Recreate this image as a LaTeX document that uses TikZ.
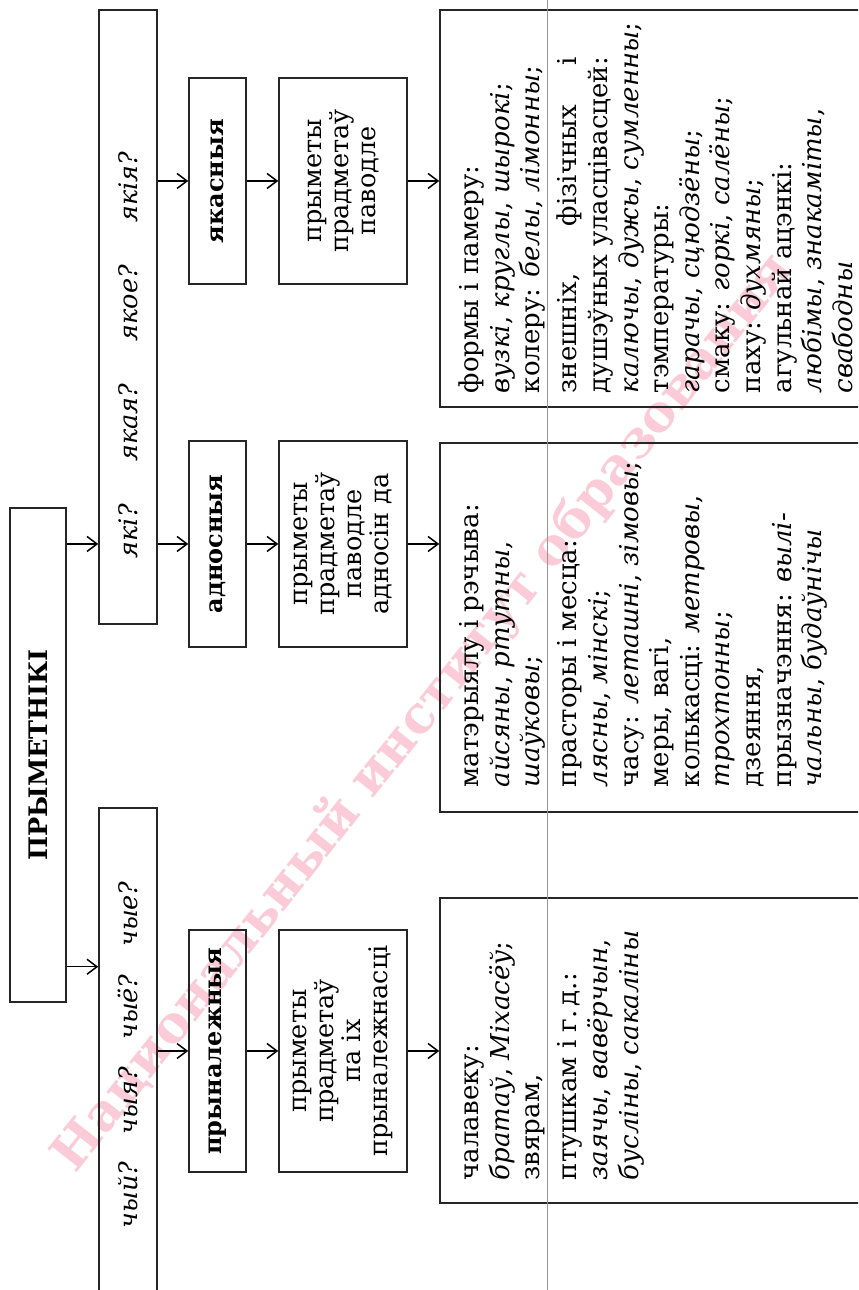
\documentclass[tikz,border=0pt]{standalone}
\usepackage{fontspec}
\setmainfont{DejaVu Serif}
\usetikzlibrary{arrows.meta, positioning, calc}

\definecolor{stampred}{RGB}{251,204,215}
\definecolor{foldgray}{RGB}{150,150,150}

% spread a line out to the width of another one
\newlength{\linespan}
\newcommand{\spreadas}[2]{\settowidth{\linespan}{#1}\makebox[\linespan][s]{#2}}

\begin{document}
\begin{tikzpicture}
   [
      % Style for every frame: thin black border, no padding
      box/.style={draw=black!85, line width=0.6pt, inner sep=0pt},
      % Style for the top box
      title box/.style={box, font=\fontsize{10.2}{12}\selectfont\bfseries},
      % Style for the three bold kind boxes
      kind box/.style={box, minimum height=22.8pt, font=\fontsize{9.6}{12}\selectfont\bfseries},
      % Style for the 'прыметы прадметаў' boxes
      sense box/.style={box, minimum height=51.2pt, align=center, font=\fontsize{10.2}{10.8}\selectfont},
      % Style for the question words
      question/.style={inner sep=0pt, font=\fontsize{10.2}{12.24}\selectfont\itshape},
      % Style for the long lists of examples
      list text/.style={anchor=north west, inner sep=0pt, align=left, font=\fontsize{10.4}{12.24}\selectfont},
      % Style for the arrows
      link/.style={line width=0.5pt, -{Straight Barb[length=4pt, width=6pt, line width=0.6pt]}},
      % Style for the page fold and the stamp
      fold line/.style={foldgray, line width=0.4pt},
      watermark/.style={text=stampred, font=\fontsize{20.5}{24}\selectfont\bfseries}
   ]

    \useasboundingbox (-343.2pt,0) rectangle (0,516pt);
    \clip (-343.2pt,0) rectangle (0,516pt);

    % Stamp across the page, under everything
    \node[watermark, rotate=51.5] (stamp) at (-174pt,231pt) {Национальный институт образования};

    % The whole scheme is set on its side
    \begin{scope}[rotate=90, transform shape]

    % =======================================================
    % Top: the word and the two question boxes
    % =======================================================

    \node[title box, minimum width=197.6pt, minimum height=22.4pt] (adj) at (214pt,328pt) {ПРЫМЕТНІКІ};

    \node[box, minimum width=245.6pt, minimum height=23.2pt] (which) at (389.2pt,292pt) {};
    \node[box, minimum width=208.8pt, minimum height=23.2pt] (whose) at (88.4pt,292pt) {};

    \node[question] (whichq) at (374pt,292pt) {які?\hspace{17pt}якая?\hspace{17pt}якое?\hspace{17pt}якія?};
    \node[question] (whoseq) at (94pt,292pt) {чый?\hspace{11pt}чыя?\hspace{11pt}чыё?\hspace{11pt}чые?};

    % =======================================================
    % Middle: the three kinds and what they mean
    % =======================================================

    \node[kind box, minimum width=82.4pt] (qual) at (443.6pt,256.2pt) {якасныя};
    \node[kind box, minimum width=82.4pt] (rel) at (298.4pt,256.2pt) {адносныя};
    \node[kind box, minimum width=96.8pt] (poss) at (95.6pt,256.2pt) {прыналежныя};

    \node[sense box, minimum width=82.4pt] (qualsense) at (443.6pt,206pt) {прыметы\\прадметаў\\паводле};
    \node[sense box, minimum width=82.4pt] (relsense) at (298.4pt,206pt) {прыметы\\прадметаў\\паводле\\адносін да};
    \node[sense box, minimum width=96.8pt] (posssense) at (95.6pt,206pt) {прыметы\\прадметаў\\па іх\\прыналежнасці};

    % =======================================================
    % Bottom: the frames with examples (cut by the page)
    % =======================================================

    \node[box, minimum width=158.8pt, minimum height=187.2pt] (qualframe) at (432.6pt,73.6pt) {};
    \node[box, minimum width=147.6pt, minimum height=187.2pt] (relframe) at (265pt,73.6pt) {};
    \node[box, minimum width=122pt, minimum height=187.2pt] (possframe) at (95.8pt,73.6pt) {};

    \node[list text] (qualtext) at ($(qualframe.north west)+(5.6pt,-7pt)$) {\strut формы і памеру:\\
      \textit{вузкі}, \textit{круглы}, \textit{шырокі};\\
      колеру: \textit{белы}, \textit{лімонны};\\[2.6pt]
      \spreadas{душэўных уласцівасцей:}{знешніх, фізічных і}\\
      душэўных уласцівасцей:\\
      \textit{калючы}, \textit{дужы}, \textit{сумленны};\\
      тэмпературы:\\
      \textit{гарачы}, \textit{сцюдзёны};\\
      смаку: \textit{горкі}, \textit{салёны};\\
      паху: \textit{духмяны};\\
      агульнай ацэнкі:\\
      \textit{любімы}, \textit{знакаміты},\\
      \textit{свабодны}};

    \node[list text] (reltext) at ($(relframe.north west)+(10pt,-7pt)$) {\strut матэрыялу і рэчыва:\\
      \textit{айсяны}, \textit{ртутны},\\
      \textit{шаўковы};\\[2.6pt]
      прасторы і месца:\\
      \textit{лясны}, \textit{мінскі};\\
      часу: \textit{леташні}, \textit{зімовы};\\
      меры, вагі,\\
      колькасці: \textit{метровы},\\
      \textit{трохтонны};\\
      дзеяння,\\
      прызначэння: \textit{вылі-}\\
      \textit{чальны}, \textit{будаўнічы}};

    \node[list text] (posstext) at ($(possframe.north west)+(9.2pt,-7pt)$) {\strut чалавеку:\\
      \textit{братаў}, \textit{Міхасёў};\\
      звярам,\\[2.6pt]
      птушкам і г.\,д.:\\
      \textit{заячы}, \textit{вавёрчын},\\
      \textit{бусліны}, \textit{сакаліны}};

    % Arrows from the word to the question boxes
    \coordinate (fork) at ($(adj.south west)!14.4pt!(adj.south east)$);
    \draw[link] (adj.south -| rel) -- (which.north -| rel);
    \draw[link] (fork) -- (whose.north -| fork);

    % Arrows down each column
    \draw[link] (which.south -| qual) -- (qual.north);
    \draw[link] (which.south -| rel) -- (rel.north);
    \draw[link] (whose.south -| poss) -- (poss.north);

    \draw[link] (qual.south) -- (qualsense.north);
    \draw[link] (rel.south) -- (relsense.north);
    \draw[link] (poss.south) -- (posssense.north);

    \draw[link] (qualsense.south) -- (qualframe.north -| qualsense.south);
    \draw[link] (relsense.south) -- (relframe.north -| relsense.south);
    \draw[link] (posssense.south) -- (possframe.north -| posssense.south);

    % Fold of the page
    \draw[fold line] (0,124pt) -- (516pt,124pt);

    \end{scope}

\end{tikzpicture}
\end{document}
